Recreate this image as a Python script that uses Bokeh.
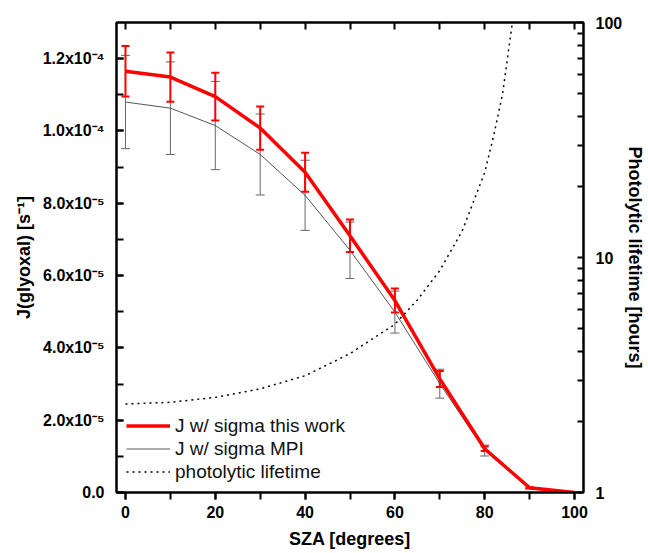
from bokeh.plotting import figure
from bokeh.models import (Range1d, LinearAxis, LogAxis, LogScale, FixedTicker,
                          Whisker, ColumnDataSource, Legend, LegendItem, TeeHead)
from bokeh.embed import file_html
from bokeh.resources import INLINE

# ---- data ----
sza = [0, 10, 20, 30, 40, 50, 60, 70, 80, 90, 100]
j_this = [1.165e-4, 1.149e-4, 1.095e-4, 1.008e-4, 0.886e-4, 0.710e-4, 0.531e-4,
          0.314e-4, 0.121e-4, 0.013e-4, 0.0]
j_this_err = [0.070e-4, 0.068e-4, 0.066e-4, 0.060e-4, 0.054e-4, 0.045e-4, 0.033e-4,
              0.022e-4, 0.006e-4, 0.0, 0.0]
j_mpi = [1.080e-4, 1.063e-4, 1.015e-4, 0.935e-4, 0.822e-4, 0.670e-4, 0.499e-4,
         0.301e-4, 0.116e-4, 0.010e-4, 0.0]
j_mpi_err = [0.129e-4, 0.128e-4, 0.122e-4, 0.112e-4, 0.097e-4, 0.078e-4, 0.058e-4,
             0.040e-4, 0.015e-4, 0.0, 0.0]
life_sza = [0, 10, 20, 30, 40, 50, 60, 65, 70, 75, 80, 82, 84, 86, 88]
life_hours = [2.38, 2.42, 2.54, 2.76, 3.14, 3.9, 5.2, 6.6, 8.8, 13, 23, 33, 50, 95, 160]

y_ticks = [0.0, 2e-5, 4e-5, 6e-5, 8e-5, 1e-4, 1.2e-4]
y_tick_labels = ["0.0", "2.0x10\u207b\u2075", "4.0x10\u207b\u2075", "6.0x10\u207b\u2075",
                 "8.0x10\u207b\u2075", "1.0x10\u207b\u2074", "1.2x10\u207b\u2074"]
x_ticks = [0, 20, 40, 60, 80, 100]
r_ticks = [1, 10, 100]
r_tick_labels = ["1", "10", "100"]

FONT = "Liberation Sans"

p = figure(width=648, height=553, output_backend="svg", toolbar_location=None,
           x_range=Range1d(-2, 102), y_range=Range1d(0, 1.3e-4),
           min_border_left=116, min_border_right=60, min_border_top=22,
           min_border_bottom=61)
p.xaxis.visible = False
p.yaxis.visible = False
p.grid.visible = False
p.outline_line_color = "black"
p.outline_line_width = 2
p.background_fill_color = "white"
p.border_fill_color = "white"

p.extra_y_ranges = {"life": Range1d(1, 100)}
p.extra_y_scales = {"life": LogScale()}


def style(ax, tin, tout):
    ax.axis_line_width = 2
    ax.axis_line_color = "black"
    ax.major_tick_line_width = 2
    ax.minor_tick_line_width = 2
    ax.major_tick_in = tin
    ax.major_tick_out = tout
    ax.minor_tick_in = tin
    ax.minor_tick_out = tout
    ax.major_label_text_font = FONT
    ax.major_label_text_font_style = "bold"
    ax.major_label_text_font_size = "16px"
    ax.major_label_text_color = "black"
    ax.axis_label_text_font = FONT
    ax.axis_label_text_font_style = "bold"
    ax.axis_label_text_font_size = "18px"
    ax.axis_label_text_color = "black"


# bottom axis
xb = LinearAxis(ticker=FixedTicker(ticks=x_ticks, minor_ticks=list(range(0, 101, 10))),
                axis_label="SZA [degrees]")
style(xb, 0, 7)
xb.major_label_standoff = 6
xb.axis_label_standoff = 8
p.add_layout(xb, "below")

# top axis (unlabelled minor ticks only)
xt = LinearAxis(ticker=FixedTicker(ticks=[], minor_ticks=list(range(0, 101, 10))))
style(xt, 7, 0)
p.add_layout(xt, "above")

# left axis
yl = LinearAxis(ticker=FixedTicker(ticks=y_ticks,
                                   minor_ticks=[i * 1e-5 for i in range(0, 14)]),
                axis_label="J(glyoxal) [s\u207b\u00b9]",
                major_label_overrides=dict(zip(y_ticks, y_tick_labels)))
style(yl, 7, 0)
yl.major_label_standoff = 12
yl.axis_label_standoff = 6
p.add_layout(yl, "left")

# right log axis
minor_r = [2, 3, 4, 5, 6, 7, 8, 9, 20, 30, 40, 50, 60, 70, 80, 90]
yr = LogAxis(y_range_name="life",
             ticker=FixedTicker(ticks=r_ticks, minor_ticks=minor_r),
             axis_label="Photolytic lifetime [hours]",
             major_label_overrides=dict(zip(r_ticks, r_tick_labels)))
style(yr, 6, 0)
yr.axis_label_text_font_size = "18px"
yr.major_label_standoff = 12
yr.axis_label_standoff = 0
p.add_layout(yr, "right")

# error bars
src_this = ColumnDataSource(dict(x=sza, y=j_this,
                                 lo=[a - b for a, b in zip(j_this, j_this_err)],
                                 hi=[a + b for a, b in zip(j_this, j_this_err)]))
src_mpi = ColumnDataSource(dict(x=sza, y=j_mpi,
                                lo=[a - b for a, b in zip(j_mpi, j_mpi_err)],
                                hi=[a + b for a, b in zip(j_mpi, j_mpi_err)]))

GRAY = "#666666"
w_mpi = Whisker(source=src_mpi, base="x", lower="lo", upper="hi", dimension="height",
                line_color=GRAY, line_width=1,
                lower_head=TeeHead(size=9, line_color=GRAY, line_width=1),
                upper_head=TeeHead(size=9, line_color=GRAY, line_width=1))
p.add_layout(w_mpi)

r_mpi = p.line("x", "y", source=src_mpi, line_color="#555555", line_width=1)
r_this = p.line("x", "y", source=src_this, line_color="#ff0000", line_width=3.5)

w_this = Whisker(source=src_this, base="x", lower="lo", upper="hi", dimension="height",
                 line_color="#ff0000", line_width=2,
                 lower_head=TeeHead(size=8, line_color="#ff0000", line_width=2),
                 upper_head=TeeHead(size=8, line_color="#ff0000", line_width=2))
p.add_layout(w_this)

r_life = p.line(life_sza, life_hours, y_range_name="life", line_color="black",
                line_width=1.5, line_dash="2 4")

legend = Legend(items=[LegendItem(label="J w/ sigma this work", renderers=[r_this]),
                       LegendItem(label="J w/ sigma MPI", renderers=[r_mpi]),
                       LegendItem(label="photolytic lifetime", renderers=[r_life])],
                location=(10, 9), orientation="vertical")
legend.background_fill_alpha = 0
legend.border_line_color = None
legend.padding = 0
legend.margin = 0
legend.spacing = 0
legend.label_height = 23
legend.glyph_height = 23
legend.glyph_width = 44
legend.label_standoff = 5
legend.label_text_font = FONT
legend.label_text_font_size = "19px"
legend.label_text_color = "#111111"
p.add_layout(legend)

open("out.html", "w").write(file_html(p, INLINE))
